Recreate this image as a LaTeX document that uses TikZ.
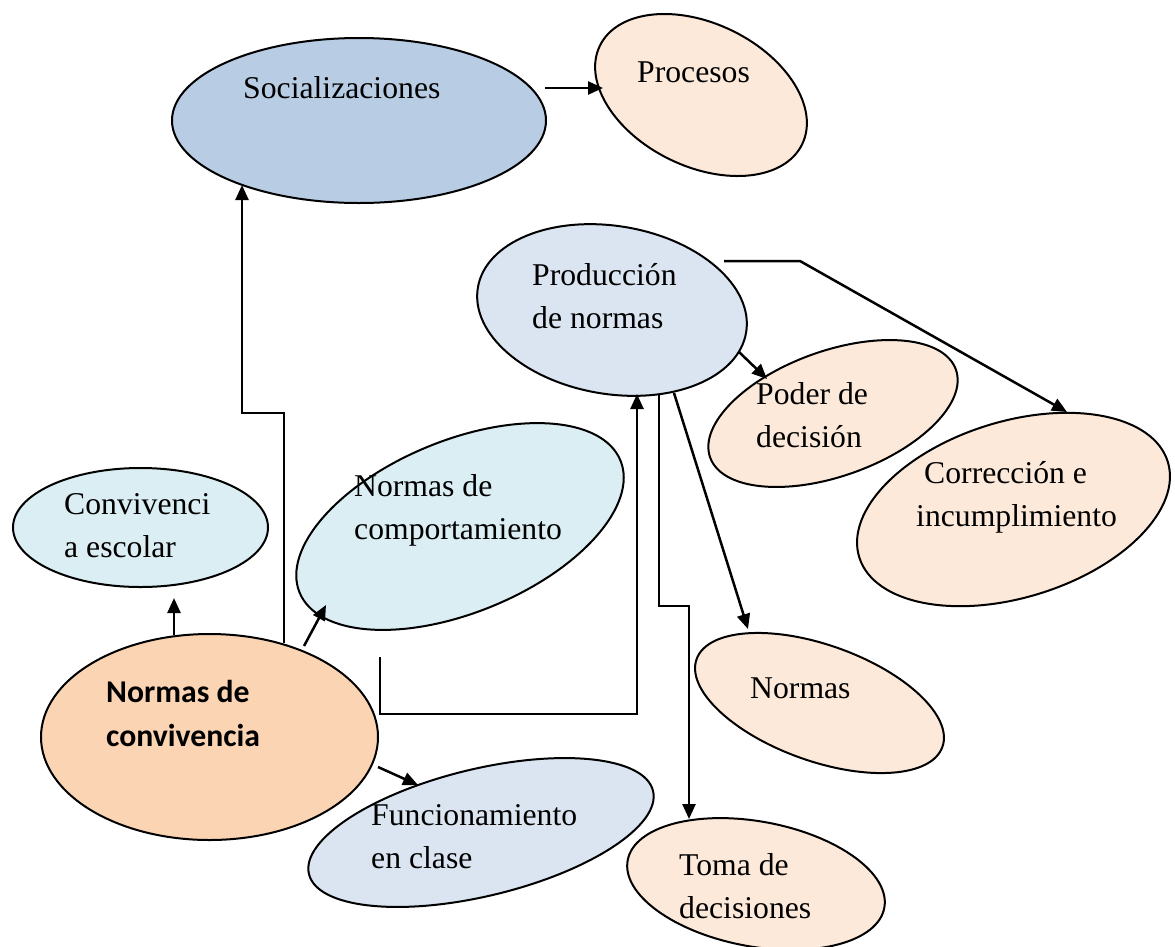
\documentclass[tikz,border=0pt]{standalone}
\usepackage{fontspec}
\setmainfont{Liberation Serif}
\newfontfamily\calibrifont{Carlito}
\usetikzlibrary{shapes.geometric,arrows.meta}
\definecolor{socblue}{HTML}{B8CCE4}
\definecolor{peach}{HTML}{FDE9D9}
\definecolor{paleblue}{HTML}{DBE5F1}
\definecolor{paleaqua}{HTML}{DAEEF3}
\definecolor{orangefill}{HTML}{FBD4B4}
\tikzset{
  ell/.style={ellipse, draw=black, line width=2pt, inner sep=0pt},
  lbl/.style={anchor=base west, align=left, inner sep=0pt,
    font=\fontsize{31.7}{42.5}\selectfont},
  boldlbl/.style={anchor=base west, align=left, inner sep=0pt,
    font=\calibrifont\bfseries\fontsize{31.7}{44}\selectfont},
  conn/.style={draw=black, line width=2.5pt,
    -{Triangle[length=15pt,width=13pt]}}
}
\begin{document}
\begin{tikzpicture}[x=1pt,y=-1pt]
\useasboundingbox (0,0) rectangle (1175,946);
% ellipses
\node[ell, fill=socblue, minimum width=374pt, minimum height=165pt] (soc) at (359,120.5) {};
\node[ell, fill=peach, minimum width=225pt, minimum height=143pt, rotate=-26] (proc) at (701,95) {};
\node[ell, fill=paleblue, minimum width=272pt, minimum height=168pt, rotate=-9.5] (prod) at (612,310) {};
\node[ell, fill=peach, minimum width=261pt, minimum height=125pt, rotate=19.7] (poder) at (833,413.5) {};
\node[ell, fill=peach, minimum width=323pt, minimum height=176pt, rotate=17.2] (corr) at (1013.5,509.5) {};
\node[ell, fill=paleaqua, minimum width=347pt, minimum height=172pt, rotate=22.4] (comp) at (460,526.5) {};
\node[ell, fill=paleaqua, minimum width=255pt, minimum height=119pt] (conv) at (140.5,527.5) {};
\node[ell, fill=orangefill, minimum width=337pt, minimum height=206pt] (nconv) at (209.5,737) {};
\node[ell, fill=paleblue, minimum width=354pt, minimum height=127pt, rotate=13.6] (func) at (481,832.5) {};
\node[ell, fill=peach, minimum width=261pt, minimum height=116pt, rotate=-19.65] (normas) at (819.5,703) {};
\node[ell, fill=peach, minimum width=261pt, minimum height=125pt, rotate=-10.5] (toma) at (756,884) {};
% labels (anchor = baseline of the last line)
\node[lbl] (tsoc) at (243,98) {Socializaciones};
\node[lbl] (tproc) at (637,82) {Procesos};
\node[lbl] (tprod) at (532,328) {Producción\\de normas};
\node[lbl] (tpoder) at (756,447) {Poder de\\decisión};
\node[lbl] (tcorr) at (916,526) {\hspace*{8pt}Corrección e\\incumplimiento};
\node[lbl] (tcomp) at (354,539) {Normas de\\comportamiento};
\node[lbl] (tconv) at (64,557) {Convivenci\\a escolar};
\node[boldlbl] (tnconv) at (106,746) {Normas de\\convivencia};
\node[lbl] (tfunc) at (371,868) {Funcionamiento\\en clase};
\node[lbl] (tnormas) at (750,698) {Normas};
\node[lbl] (ttoma) at (679,918) {Toma de\\decisiones};
% connector end points
\coordinate (socR) at (545,88);
\coordinate (procL) at (603,88);
\coordinate (nconvA) at (284,643);
\coordinate (bendA) at (242,413);
\coordinate (socB) at (242,185);
\coordinate (nconvB) at (174,635);
\coordinate (convB) at (174,598);
\coordinate (nconvC) at (304,646);
\coordinate (compB) at (326,605);
\coordinate (nconvD) at (378,767);
\coordinate (funcT) at (418,785);
\coordinate (nconvE) at (380,657);
\coordinate (bendE) at (637,714);
\coordinate (prodB) at (637,394);
\coordinate (prodF) at (659,394);
\coordinate (bendF) at (689,606);
\coordinate (tomaT) at (689,819);
\coordinate (prodG) at (674,393);
\coordinate (normasT) at (748,629);
\coordinate (prodH) at (739,352);
\coordinate (poderT) at (767,379);
\coordinate (prodI) at (724,261);
\coordinate (bendI) at (800,261);
\coordinate (corrT) at (1067,412);
% connectors
\draw[conn] (socR) -- (procL);
\draw[conn] (nconvA) |- (bendA) -- (socB);
\draw[conn] (nconvB) -- (convB);
\draw[conn] (nconvC) -- (compB);
\draw[conn] (nconvD) -- (funcT);
\draw[conn] (nconvE) |- (bendE) -- (prodB);
\draw[conn] (prodF) |- (bendF) -- (tomaT);
\draw[conn] (prodG) -- (normasT);
\draw[conn] (prodH) -- (poderT);
\draw[conn] (prodI) -- (bendI) -- (corrT);
\end{tikzpicture}
\end{document}
